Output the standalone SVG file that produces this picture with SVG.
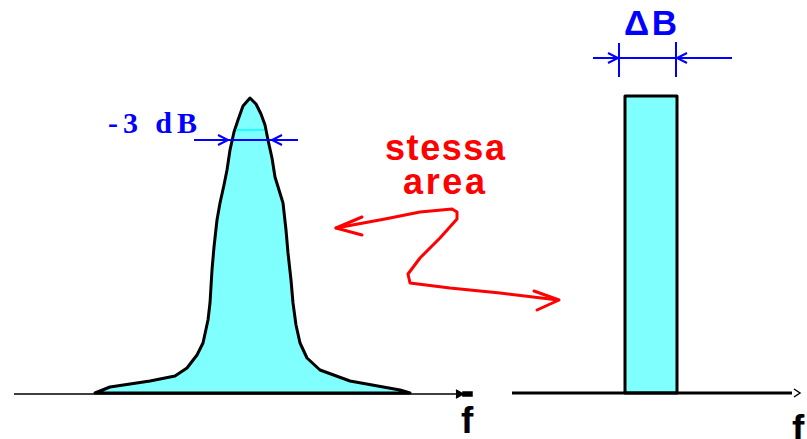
<svg xmlns="http://www.w3.org/2000/svg" width="807" height="439" viewBox="0 0 807 439">
<style>
.axis{stroke:#000;fill:none}
.shape{fill:#80FFFF;stroke:#000;stroke-width:3;stroke-linejoin:round}
.dim{stroke:#0000FF;stroke-width:2;fill:none}
.red{stroke:#FF0000;stroke-width:3;fill:none;stroke-linejoin:round;stroke-linecap:round}
.blue{fill:#0000FF;font-weight:bold}
.f{font-family:'Liberation Sans',Arial,sans-serif;font-weight:bold;font-size:37px;fill:#000}
.redt{font-family:'Liberation Sans',Arial,sans-serif;font-weight:bold;font-size:36px;fill:#FF0000}
</style>
<rect width="807" height="439" fill="#fff"/>
<g id="left-plot">
<path class="shape" d="M95,393 L110,387 L150,381 L175,376 L187,368 L197,355 L203,343 L208,320 L210,303 L212,270 L214,247 L217,220 L220,203 L224,185 L227,170 L230,150 L234,132 L238,120 L243,106 L250,98 L256,104 L261,114 L265,125 L268,140 L272,158 L275,177 L279,190 L283,203 L286,230 L288,253 L291,280 L293,303 L296,325 L300,343 L307,358 L320,370 L350,381 L400,390 L410,393 Z"/>
<line x1="236" y1="130" x2="264" y2="130" stroke="#00FFFF" stroke-width="1.5"/>
<line class="axis" x1="14" y1="394" x2="472" y2="394" stroke-width="1.5"/>
<path d="M456,390 L463,394 L456,398 M463,392 L472,392 L472,396 L463,396 Z" stroke="#000" stroke-width="1.5" fill="#000"/>
<text class="f" x="461" y="433">f</text>
</g>
<g id="minus3dB">
<text class="blue" x="108" y="133" font-family="'Liberation Serif','Times New Roman',serif" font-size="30" textLength="89" lengthAdjust="spacing">-3 dB</text>
<line class="dim" x1="194" y1="140" x2="298" y2="140"/>
<path class="dim" d="M218,135 L228,140 L218,145"/>
<path class="dim" d="M282,135 L272,140 L282,145"/>
</g>
<g id="right-plot">
<rect class="shape" x="625" y="96" width="52" height="297"/>
<line class="axis" x1="512" y1="393" x2="792" y2="393" stroke-width="3"/>
<path d="M794,389 L800,393 L794,397" class="axis" stroke-width="1.5"/>
<text class="f" x="792" y="441">f</text>
</g>
<g id="deltaB">
<text class="blue" x="624" y="35" font-family="'Liberation Sans',Arial,sans-serif" font-size="35" textLength="53" lengthAdjust="spacing">ΔB</text>
<line class="dim" x1="593" y1="58" x2="732" y2="58"/>
<line class="dim" x1="619" y1="43" x2="619" y2="77" stroke-width="2.5"/>
<line class="dim" x1="676" y1="42" x2="676" y2="77" stroke-width="2.5"/>
<path class="dim" d="M608,53 L618,58 L608,63"/>
<path class="dim" d="M687,53 L677,58 L687,63"/>
</g>
<g id="stessa-area">
<text class="redt" x="385" y="160" textLength="120" lengthAdjust="spacing">stessa</text>
<text class="redt" x="403" y="194" textLength="82" lengthAdjust="spacing">area</text>
</g>
<g id="connectors">
<path class="red" d="M336,228 L385,219 L420,212 L452,209 L457,212 L457,219 L440,238 L420,258 L408,274 L410,283 L450,288 L500,293 L558,300"/>
<path class="red" d="M362,217 L336,228 L362,235"/>
<path class="red" d="M534,291 L559,300 L537,310"/>
</g>
</svg>
